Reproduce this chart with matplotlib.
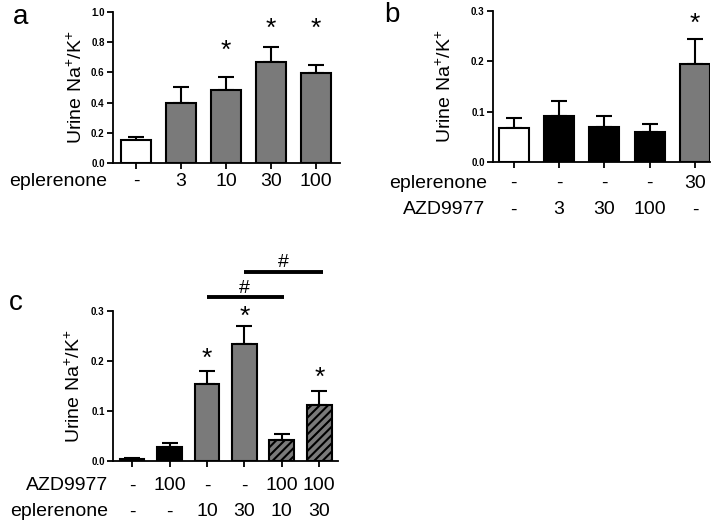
import matplotlib
matplotlib.use("Agg")
import matplotlib.pyplot as plt
import matplotlib.transforms as mtrans

plt.rcParams['font.family'] = ['Liberation Sans', 'DejaVu Sans']
plt.rcParams['mathtext.fontset'] = 'custom'
plt.rcParams['mathtext.rm'] = 'Liberation Sans'
plt.rcParams['mathtext.it'] = 'Liberation Sans:italic'
plt.rcParams['mathtext.bf'] = 'Liberation Sans:bold'
plt.rcParams['hatch.linewidth'] = 1.5

# ---- data ----
a_eplerenone = ['-', '3', '10', '30', '100']
a_means = [0.15, 0.395, 0.485, 0.67, 0.595]
a_errs = [0.025, 0.11, 0.085, 0.095, 0.055]
a_stars = [False, False, True, True, True]

b_eplerenone = ['-', '-', '-', '-', '30']
b_azd = ['-', '3', '30', '100', '-']
b_means = [0.068, 0.092, 0.069, 0.060, 0.195]
b_errs = [0.020, 0.029, 0.022, 0.015, 0.050]
b_stars = [False, False, False, False, True]

c_azd = ['-', '100', '-', '-', '100', '100']
c_eplerenone = ['-', '-', '10', '30', '10', '30']
c_means = [0.005, 0.028, 0.155, 0.235, 0.042, 0.112]
c_errs = [0.002, 0.008, 0.025, 0.035, 0.012, 0.029]
c_stars = [False, False, True, True, False, True]

GRAY = '#7a7a7a'
YLABEL = 'Urine Na$^{\\mathregular{+}}$/K$^{\\mathregular{+}}$'

W, H = 724, 524
fig = plt.figure(figsize=(W / 100, H / 100), dpi=100)


def px_axes(l, r, b, t):
    return fig.add_axes([l / W, 1 - b / H, (r - l) / W, (b - t) / H])


def style(ax, ymax, yticks, fmt):
    for s in ['top', 'right']:
        ax.spines[s].set_visible(False)
    for s in ['left', 'bottom']:
        ax.spines[s].set_linewidth(1.3)
    ax.set_ylim(0, ymax)
    ax.set_yticks(yticks)
    ax.set_yticklabels([fmt.format(v) for v in yticks], fontsize=7, fontweight='bold')
    ax.tick_params(axis='y', direction='out', length=4, width=1.3, pad=2)
    ax.tick_params(axis='x', direction='out', length=4, width=1.3, labelbottom=False)
    ax.set_ylabel(YLABEL, fontsize=14)


def bars(ax, means, errs, colors, hatches=None):
    x = list(range(len(means)))
    for i in x:
        ax.bar(i, means[i], width=0.66, color=colors[i], edgecolor='black',
               linewidth=1.5, hatch=(hatches[i] if hatches else None), zorder=2)
        ax.errorbar(i, means[i], yerr=[[0], [errs[i]]], fmt='none', ecolor='black',
                    elinewidth=1.5, capsize=5.5, capthick=1.5, zorder=1)
    ax.set_xticks(x)


def row(ax, labels, name, ypx, name_right_px):
    tr = mtrans.blended_transform_factory(ax.transData, fig.transFigure)
    for i, s in enumerate(labels):
        ax.text(i, 1 - ypx / H, s, transform=tr, ha='center', va='center', fontsize=14)
    fig.text(name_right_px / W, 1 - ypx / H, name, ha='right', va='center', fontsize=14)


def star(ax, x, y):
    ax.text(x, y, '*', ha='center', va='center', fontsize=19, clip_on=False)


# ---- panel a ----
axa = px_axes(113, 340, 163, 12)
bars(axa, a_means, a_errs, ['white', GRAY, GRAY, GRAY, GRAY])
axa.set_xlim(-0.51, 4.53)
style(axa, 1.0, [0.0, 0.2, 0.4, 0.6, 0.8, 1.0], '{:.1f}')
axa.yaxis.set_label_coords(-0.122, 0.5)
a_star_y = {2: 0.74, 3: 0.89, 4: 0.89}
for i, st in enumerate(a_stars):
    if st:
        star(axa, i, a_star_y[i])
row(axa, a_eplerenone, 'eplerenone', 181, 107)
fig.text(21 / W, 1 - 17 / H, 'a', fontsize=20, ha='center', va='center')

# ---- panel b ----
axb = px_axes(493, 710, 162, 11)
bars(axb, b_means, b_errs, ['white', 'black', 'black', 'black', GRAY])
axb.set_xlim(-0.46, 4.33)
style(axb, 0.3, [0.0, 0.1, 0.2, 0.3], '{:.1f}')
axb.yaxis.set_label_coords(-0.178, 0.5)
for i, st in enumerate(b_stars):
    if st:
        star(axb, i, 0.275)
row(axb, b_eplerenone, 'eplerenone', 183, 487)
row(axb, b_azd, 'AZD9977', 210, 485)
fig.text(392 / W, 1 - 15 / H, 'b', fontsize=20, ha='center', va='center')

# ---- panel c ----
axc = px_axes(113, 338, 461, 311)
bars(axc, c_means, c_errs, ['white', 'black', GRAY, GRAY, GRAY, GRAY],
     hatches=[None, None, None, None, '////', '////'])
axc.set_xlim(-0.51, 5.5)
style(axc, 0.3, [0.0, 0.1, 0.2, 0.3], '{:.1f}')
axc.yaxis.set_label_coords(-0.128, 0.5)
c_star_y = {2: 0.205, 3: 0.288, 5: 0.166}
for i, st in enumerate(c_stars):
    if st:
        star(axc, i, c_star_y[i])
# significance bars
axc.plot([2, 4.05], [0.328, 0.328], color='black', lw=2.8, clip_on=False, solid_capstyle='butt')
axc.text(3.0, 0.345, '#', ha='center', va='center', fontsize=14, clip_on=False)
axc.plot([3, 5.1], [0.378, 0.378], color='black', lw=2.8, clip_on=False, solid_capstyle='butt')
axc.text(4.05, 0.397, '#', ha='center', va='center', fontsize=14, clip_on=False)
row(axc, c_azd, 'AZD9977', 486, 108)
row(axc, c_eplerenone, 'eplerenone', 512, 108)
fig.text(16 / W, 1 - 303 / H, 'c', fontsize=20, ha='center', va='center')

fig.savefig('out.png', dpi=100)
